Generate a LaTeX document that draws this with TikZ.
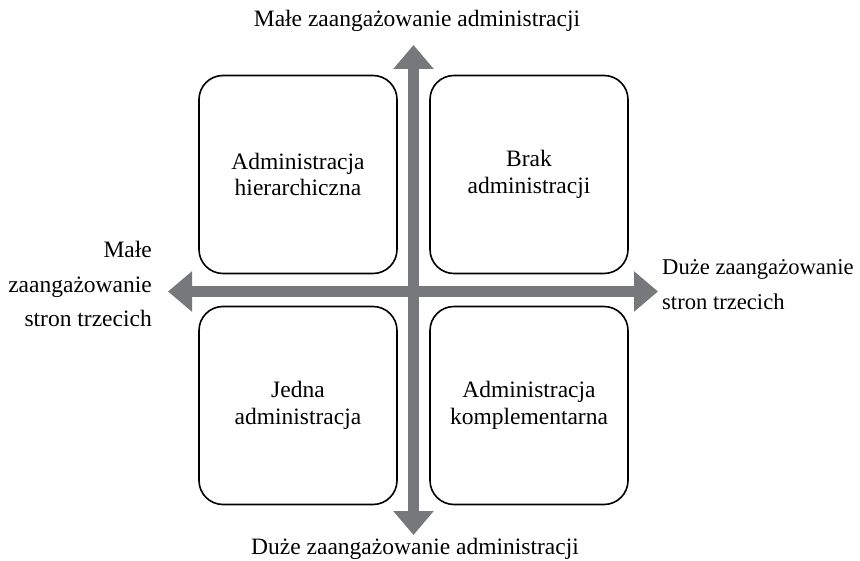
\documentclass[tikz,border=0pt]{standalone}
\usepackage{fontspec}
\setmainfont{Liberation Serif}
\usetikzlibrary{arrows.meta}
\definecolor{arrgray}{RGB}{119,120,124}
\begin{document}
\begin{tikzpicture}[x=1pt,y=-1pt,
  quad/.style={draw=black, line width=1.6pt, rounded corners=24pt, minimum width=198pt, minimum height=198pt, inner sep=0pt, align=center, font=\fontsize{23.5}{26.5}\selectfont},
  lab/.style={inner sep=0pt, font=\fontsize{23.5}{34.5}\selectfont},
  axis/.style={draw=arrgray, line width=11pt, {Triangle[width=39pt,length=24pt]}-{Triangle[width=39pt,length=24pt]}}
]
\useasboundingbox (0,0) rectangle (860,561);
\coordinate (top) at (413.5,45);
\coordinate (bot) at (413.5,535);
\coordinate (lft) at (168,291.5);
\coordinate (rgt) at (658,291.5);
\draw[axis] (lft) -- (rgt);
\draw[axis] (bot) -- (top);
\node[quad] (tl) at (298,174.5) {Administracja\\hierarchiczna};
\node[quad] (tr) at (529,174.5) {Brak\\administracji};
\node[quad] (bl) at (298,405.5) {Jedna\\administracja};
\node[quad] (br) at (529,405.5) {Administracja\\komplementarna};
\node[lab, anchor=base] (tlab) at (417,27) {Małe zaangażowanie administracji};
\node[lab, anchor=base] (blab) at (415,554) {Duże zaangażowanie administracji};
\node[lab, align=right, anchor=east] (llab) at (152,284) {Małe\\zaangażowanie\\stron trzecich};
\node[lab, align=left, anchor=west, font=\fontsize{22.6}{34.5}\selectfont] (rlab) at (662,284.5) {Duże zaangażowanie\\stron trzecich};
\end{tikzpicture}
\end{document}
